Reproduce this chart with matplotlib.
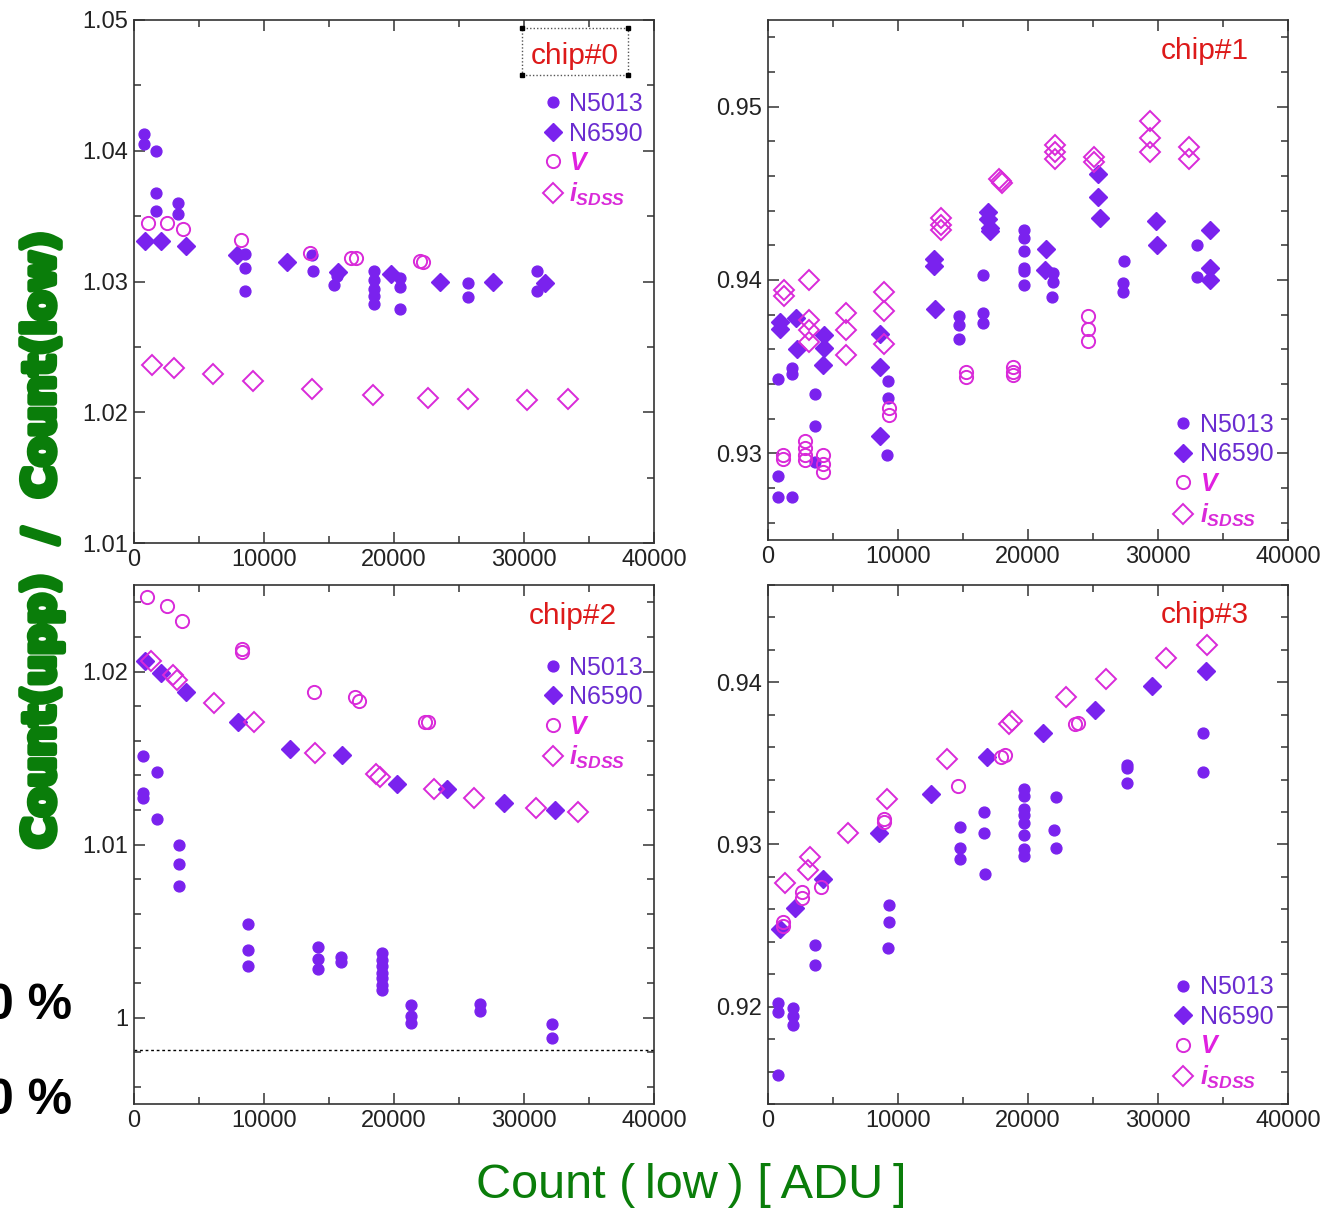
import matplotlib
matplotlib.use("Agg")
import matplotlib.pyplot as plt
import matplotlib.patheffects as pe
from matplotlib.ticker import MultipleLocator, StrMethodFormatter
from matplotlib.patches import Rectangle

plt.rcParams['font.family'] = ['Liberation Sans', 'DejaVu Sans']
plt.rcParams['mathtext.fontset'] = 'custom'
plt.rcParams['mathtext.it'] = 'Liberation Sans:bold:italic'
plt.rcParams['mathtext.rm'] = 'Liberation Sans:bold'

W, H = 1337, 1211

# ---- chip#0 ----
c0_n5013_x = [750, 750, 1730, 1730, 1730, 3420, 3420, 8570, 8570, 8570, 13700, 13750, 15400, 15600,
              18500, 18500, 18500, 18500, 18500, 20500, 20500, 20500, 25700, 25700, 31000, 31000]
c0_n5013_y = [1.0413, 1.0405, 1.0400, 1.0368, 1.0354, 1.0360, 1.0352, 1.0321, 1.0310, 1.0293, 1.0320, 1.0308,
              1.0297, 1.0304, 1.0308, 1.0301, 1.0294, 1.0289, 1.0283, 1.0303, 1.0296, 1.0279, 1.0299, 1.0288,
              1.0308, 1.0293]
c0_n6590_x = [810, 2050, 3970, 7900, 11790, 15700, 19770, 23520, 27620, 31600]
c0_n6590_y = [1.0331, 1.0331, 1.0327, 1.0320, 1.0315, 1.0307, 1.0306, 1.0300, 1.0300, 1.0299]
c0_v_x = [1040, 2540, 3750, 8240, 13520, 16700, 17040, 22000, 22200]
c0_v_y = [1.0345, 1.0345, 1.0340, 1.0332, 1.0322, 1.0318, 1.0318, 1.0316, 1.0315]
c0_i_x = [1370, 3090, 6090, 9120, 13680, 18400, 22640, 25730, 30230, 33390]
c0_i_y = [1.0236, 1.0234, 1.0229, 1.0224, 1.0218, 1.0213, 1.0211, 1.0210, 1.0209, 1.0210]

# ---- chip#1 ----
c1_n5013_x = [760, 760, 760, 1820, 1820, 1820, 3650, 3650, 3650, 9220, 9220, 9150, 14700, 14700, 14700,
              16520, 16520, 16520, 19670, 19670, 19670, 19670, 19670, 19700, 21890, 21890, 21850,
              27360, 27300, 27300, 33000, 33000]
c1_n5013_y = [0.9343, 0.9287, 0.9275, 0.9275, 0.9349, 0.9346, 0.9334, 0.9316, 0.9295, 0.9342, 0.9332, 0.9299,
              0.9379, 0.9374, 0.9366, 0.9403, 0.9381, 0.9375, 0.9429, 0.9424, 0.9417, 0.9407, 0.9405, 0.9397,
              0.9404, 0.9399, 0.9390, 0.9411, 0.9398, 0.9393, 0.9420, 0.9402]
c1_n6590_x = [900, 900, 2150, 2220, 4310, 4310, 4250, 8620, 8620, 8620, 12770, 12770, 12840,
              16920, 16920, 17050, 17050, 21390, 21330, 25370, 25370, 25540, 29850, 29950, 34000, 34000, 34000]
c1_n6590_y = [0.9376, 0.9372, 0.9378, 0.9360, 0.9368, 0.9361, 0.9351, 0.9369, 0.9350, 0.9310, 0.9412, 0.9408,
              0.9383, 0.9439, 0.9435, 0.9430, 0.9428, 0.9418, 0.9406, 0.9461, 0.9448, 0.9436, 0.9434, 0.9420,
              0.9429, 0.9407, 0.9400]
c1_v_x = [1160, 1160, 2820, 2820, 2820, 2820, 4250, 4250, 4250, 9290, 9290, 15260, 15260,
          18840, 18840, 18840, 24610, 24610, 24610]
c1_v_y = [0.9299, 0.9297, 0.9307, 0.9303, 0.9299, 0.9296, 0.9299, 0.9294, 0.9289, 0.9326, 0.9322, 0.9347,
          0.9344, 0.9350, 0.9347, 0.9345, 0.9379, 0.9372, 0.9365]
c1_i_x = [1260, 1260, 3150, 3150, 3150, 3150, 5970, 5970, 5970, 8950, 8950, 8900, 13330, 13330, 13330,
          17800, 17910, 18000, 22060, 22060, 22060, 25040, 25040, 29350, 29350, 29350, 32400, 32400]
c1_i_y = [0.9394, 0.9391, 0.9400, 0.9377, 0.9371, 0.9364, 0.9381, 0.9371, 0.9357, 0.9393, 0.9382, 0.9363,
          0.9436, 0.9432, 0.9429, 0.9458, 0.9457, 0.9456, 0.9478, 0.9474, 0.9470, 0.9471, 0.9468, 0.9492,
          0.9482, 0.9474, 0.9477, 0.9470]

# ---- chip#2 ----
c2_n5013_x = [725, 725, 725, 1750, 1750, 3460, 3460, 3460, 8800, 8800, 8800, 14180, 14180, 14180,
              15920, 15920, 19060, 19060, 19060, 19060, 19060, 19060, 19060, 21270, 21270, 21270,
              26600, 26600, 32150, 32150]
c2_n5013_y = [1.0151, 1.0130, 1.0127, 1.0142, 1.0115, 1.0100, 1.0089, 1.0076, 1.0054, 1.0039, 1.0030,
              1.0041, 1.0034, 1.0028, 1.0035, 1.0032, 1.0037, 1.0033, 1.0030, 1.0026, 1.0023, 1.0019, 1.0016,
              1.0007, 1.0001, 0.9997, 1.0008, 1.0004, 0.9996, 0.9988]
c2_n6590_x = [820, 2080, 4020, 8010, 12030, 16000, 20210, 24070, 28450, 32380]
c2_n6590_y = [1.0206, 1.0199, 1.0188, 1.0171, 1.0155, 1.0152, 1.0135, 1.0132, 1.0124, 1.0120]
c2_v_x = [990, 2540, 3730, 8310, 8310, 13850, 17000, 17300, 22350, 22580]
c2_v_y = [1.0243, 1.0238, 1.0229, 1.0213, 1.0211, 1.0188, 1.0185, 1.0183, 1.0171, 1.0171]
c2_i_x = [1320, 2970, 3300, 6170, 9230, 13910, 18630, 18960, 23080, 26150, 30890, 34120]
c2_i_y = [1.0206, 1.0198, 1.0195, 1.0182, 1.0171, 1.0153, 1.0141, 1.0139, 1.0132, 1.0127, 1.0121, 1.0119]
c2_limit = 0.9981

# ---- chip#3 ----
c3_n5013_x = [760, 760, 760, 1890, 1890, 1890, 3650, 3650, 9290, 9290, 9250, 14760, 14760, 14760,
              16580, 16580, 16680, 19730, 19730, 19730, 19730, 19730, 19730, 19730, 19730,
              22160, 22000, 22160, 27630, 27630, 27630, 33500, 33500]
c3_n5013_y = [0.9202, 0.9197, 0.9158, 0.9199, 0.9194, 0.9189, 0.9238, 0.9226, 0.9263, 0.9252, 0.9236,
              0.9311, 0.9298, 0.9291, 0.9320, 0.9307, 0.9282, 0.9334, 0.9330, 0.9322, 0.9318, 0.9313, 0.9306,
              0.9297, 0.9293, 0.9329, 0.9309, 0.9298, 0.9349, 0.9347, 0.9338, 0.9369, 0.9345]
c3_n6590_x = [900, 2090, 4210, 8520, 12540, 16850, 21130, 25140, 29520, 33670]
c3_n6590_y = [0.9248, 0.9261, 0.9279, 0.9307, 0.9331, 0.9354, 0.9369, 0.9383, 0.9398, 0.9407]
c3_v_x = [1160, 1160, 2650, 2650, 4050, 8890, 8890, 14590, 17910, 18240, 23650, 23880]
c3_v_y = [0.9252, 0.9250, 0.9271, 0.9267, 0.9274, 0.9316, 0.9314, 0.9336, 0.9354, 0.9355, 0.9374, 0.9375]
c3_i_x = [1330, 3080, 3220, 6140, 9190, 13760, 18510, 18740, 22890, 25970, 30610, 33760]
c3_i_y = [0.9276, 0.9284, 0.9292, 0.9307, 0.9328, 0.9353, 0.9374, 0.9376, 0.9391, 0.9402, 0.9415, 0.9423]

labels = ['N5013', 'N6590', '$V$', '$i_{SDSS}$']
purple = '#7a22ee'
magenta = '#d92ad9'
label_colors = ['#6a2cd0', '#6a2cd0', '#e020e0', '#d92ad9']


def px_axes(l, t, r, b):
    return [l / W, 1 - b / H, (r - l) / W, (b - t) / H]


def panel(ax, data, ylim, chip, chip_pos, leg_loc, leg_anchor):
    (nx, ny), (dx, dy), (vx, vy), (ix, iy) = data
    ax.plot(nx, ny, 'o', ls='none', color=purple, ms=7.8, mec=purple, label=labels[0])
    ax.plot(dx, dy, 'D', ls='none', color=purple, ms=9, mec=purple, label=labels[1])
    ax.plot(vx, vy, 'o', ls='none', mfc='none', mec=magenta, ms=9.5, mew=1.4, label=labels[2])
    ax.plot(ix, iy, 'D', ls='none', mfc='none', mec=magenta, ms=10.5, mew=1.4, label=labels[3])
    ax.set_xlim(0, 40000)
    ax.set_ylim(*ylim)
    ax.xaxis.set_major_locator(MultipleLocator(10000))
    ax.xaxis.set_minor_locator(MultipleLocator(5000))
    ax.yaxis.set_major_locator(MultipleLocator(0.01))
    ax.yaxis.set_major_formatter(StrMethodFormatter('{x:g}'))
    ax.tick_params(which='both', direction='in', top=True, right=True, labelsize=17,
                   labelcolor='#222222', color='#333333', width=1.1, pad=4)
    ax.tick_params(which='major', length=8)
    ax.tick_params(which='minor', length=5)
    for s in ax.spines.values():
        s.set_color('#333333')
        s.set_linewidth(1.2)
    ax.text(chip_pos[0], chip_pos[1], chip, transform=ax.transAxes, color='#dd1a1a',
            fontsize=21.5, ha='center', va='center')
    leg = ax.legend(loc=leg_loc, bbox_to_anchor=leg_anchor, frameon=False, fontsize=18,
                    handlelength=0.5, handletextpad=0.4, labelspacing=0.22,
                    borderpad=0, borderaxespad=0)
    for t, c in zip(leg.get_texts(), label_colors):
        t.set_color(c)
    return ax


fig = plt.figure(figsize=(W / 100, H / 100), dpi=100)

ax0 = fig.add_axes(px_axes(134, 20, 654, 543))
panel(ax0, [(c0_n5013_x, c0_n5013_y), (c0_n6590_x, c0_n6590_y), (c0_v_x, c0_v_y), (c0_i_x, c0_i_y)],
      (1.01, 1.05), 'chip#0', (0.848, 0.932), 'upper right', (0.978, 0.862))
ax0.yaxis.set_minor_locator(MultipleLocator(0.005))
# selection box around the chip#0 label
ax0.add_patch(Rectangle((0.746, 0.895), 0.204, 0.09, transform=ax0.transAxes, fill=False,
                        ec='#555555', ls=(0, (1, 1.5)), lw=1, clip_on=False))
ax0.plot([0.746, 0.95, 0.746, 0.95], [0.895, 0.895, 0.985, 0.985], 's', color='k', ms=3,
         transform=ax0.transAxes, clip_on=False)

ax1 = fig.add_axes(px_axes(768, 20, 1288, 540))
panel(ax1, [(c1_n5013_x, c1_n5013_y), (c1_n6590_x, c1_n6590_y), (c1_v_x, c1_v_y), (c1_i_x, c1_i_y)],
      (0.925, 0.955), 'chip#1', (0.84, 0.94), 'lower right', (0.972, 0.022))
ax1.yaxis.set_minor_locator(MultipleLocator(0.002))

ax2 = fig.add_axes(px_axes(134, 585, 654, 1104))
panel(ax2, [(c2_n5013_x, c2_n5013_y), (c2_n6590_x, c2_n6590_y), (c2_v_x, c2_v_y), (c2_i_x, c2_i_y)],
      (0.995, 1.025), 'chip#2', (0.844, 0.94), 'upper right', (0.978, 0.864))
ax2.yaxis.set_minor_locator(MultipleLocator(0.002))
ax2.axhline(c2_limit, color='k', ls=(0, (2, 2)), lw=1)

ax3 = fig.add_axes(px_axes(768, 585, 1288, 1104))
panel(ax3, [(c3_n5013_x, c3_n5013_y), (c3_n6590_x, c3_n6590_y), (c3_v_x, c3_v_y), (c3_i_x, c3_i_y)],
      (0.914, 0.946), 'chip#3', (0.84, 0.943), 'lower right', (0.972, 0.025))
ax3.yaxis.set_minor_locator(MultipleLocator(0.002))

green = '#0a7d0a'
fig.text(42 / W, 1 - 540 / H, 'Count(upp)  /  Count(low)', rotation=90, ha='center', va='center',
         color=green, fontsize=31, fontweight='bold', family=['DejaVu Sans', 'Liberation Sans'],
         path_effects=[pe.withStroke(linewidth=4.5, foreground=green)])
fig.text(691 / W, 1 - 1185 / H, 'Count (\u2009low\u2009) [\u2009ADU\u2009]', ha='center', va='center',
         color=green, fontsize=35, family=['Liberation Sans', 'DejaVu Sans'])
fig.text(72 / W, 1 - 1019 / H, '0 %', ha='right', va='baseline', fontsize=36, fontweight='bold')
fig.text(72 / W, 1 - 1114 / H, '0 %', ha='right', va='baseline', fontsize=36, fontweight='bold')

fig.savefig('out.png', dpi=100)
